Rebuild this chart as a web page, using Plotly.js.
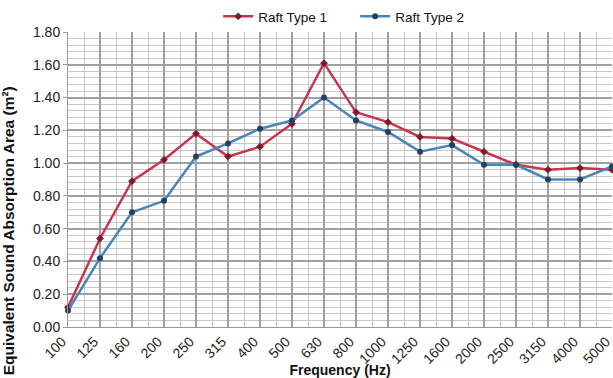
<!DOCTYPE html>
<html>
<head>
<meta charset="utf-8">
<script src="https://cdn.plot.ly/plotly-3.0.1.min.js"></script>
<style>html,body{margin:0;padding:0;background:#fff;}#chart{width:613px;height:378px;}</style>
</head>
<body>
<div id="chart"></div>
<script>
const categories = ["100","125","160","200","250","315","400","500","630","800","1000","1250","1600","2000","2500","3150","4000","5000"];
const raftType1 = [0.12,0.54,0.89,1.02,1.18,1.04,1.10,1.24,1.61,1.31,1.25,1.16,1.15,1.07,0.99,0.96,0.97,0.96];
const raftType2 = [0.10,0.42,0.70,0.77,1.04,1.12,1.21,1.26,1.40,1.26,1.19,1.07,1.11,0.99,0.99,0.90,0.90,0.98];
const yTickVals = [0,0.2,0.4,0.6,0.8,1.0,1.2,1.4,1.6,1.8];
const yTickText = ["0.00","0.20","0.40","0.60","0.80","1.00","1.20","1.40","1.60","1.80"];

const idx = categories.map((c,i)=>i);
const xMinor = idx.slice(0, -1).map(i => i + 0.5);
const yMinor = [];
for (let k = 0; k < 45; k++) { if (k % 5 !== 0) yMinor.push(k * 0.04); }

const traces = [
  {x: idx, y: raftType1, name: "Raft Type 1", mode: "lines+markers",
   line: {color: "#C8364E", width: 2.5}, marker: {color: "#7E1A2A", size: 6, symbol: "diamond"}, cliponaxis: false},
  {x: idx, y: raftType2, name: "Raft Type 2", mode: "lines+markers",
   line: {color: "#4A84BD", width: 2.5}, marker: {color: "#23405E", size: 6, symbol: "circle"}, cliponaxis: false}
];
const layout = {
  width: 613, height: 378,
  margin: {l: 68, r: 1, t: 30, b: 51},
  paper_bgcolor: "#fff", plot_bgcolor: "#fff",
  font: {family: "Liberation Sans, Arial, sans-serif", color: "#222", size: 14},
  showlegend: true,
  legend: {orientation: "h", x: 0.276, xanchor: "left", y: 1.0, yanchor: "bottom",
           font: {size: 13.5, color: "#111"}, itemwidth: 30, tracegroupgap: 0,
           entrywidth: 92, entrywidthmode: "pixels"},
  xaxis: {
    range: [0, categories.length - 1], tickmode: "array", tickvals: idx, ticktext: categories,
    tickangle: -45, showgrid: true, gridcolor: "#a0a0a0", gridwidth: 2, layer: "below traces",
    zeroline: false, showline: true, linecolor: "#999", ticks: "", tickfont: {size: 14, color: "#222"},
    ticklabelshift: -6, ticklabeloverflow: "allow",
    minor: {tickmode: "array", tickvals: xMinor, showgrid: true, gridcolor: "#c8c8c8", gridwidth: 1},
    title: {text: "<b>Frequency (Hz)</b>", font: {size: 14, color: "#111"}, standoff: 1}
  },
  yaxis: {
    range: [0, 1.8], tickmode: "array", tickvals: yTickVals, ticktext: yTickText,
    showgrid: true, gridcolor: "#a0a0a0", gridwidth: 2, zeroline: false,
    showline: true, linecolor: "#999", ticks: "outside", ticklen: 4, tickcolor: "#999",
    tickfont: {size: 14, color: "#222"},
    minor: {tickmode: "array", tickvals: yMinor, showgrid: true, gridcolor: "#c8c8c8", gridwidth: 1}
  },
  annotations: [{
    text: "<b>Equivalent Sound Absorption Area (m²)</b>", textangle: -90,
    xref: "paper", yref: "paper", x: -0.11, y: 0.325, xanchor: "center", yanchor: "middle",
    showarrow: false, font: {size: 15.5, color: "#111"}
  }]
};
Plotly.newPlot("chart", traces, layout, {displayModeBar: false, staticPlot: true});
</script>
</body>
</html>
